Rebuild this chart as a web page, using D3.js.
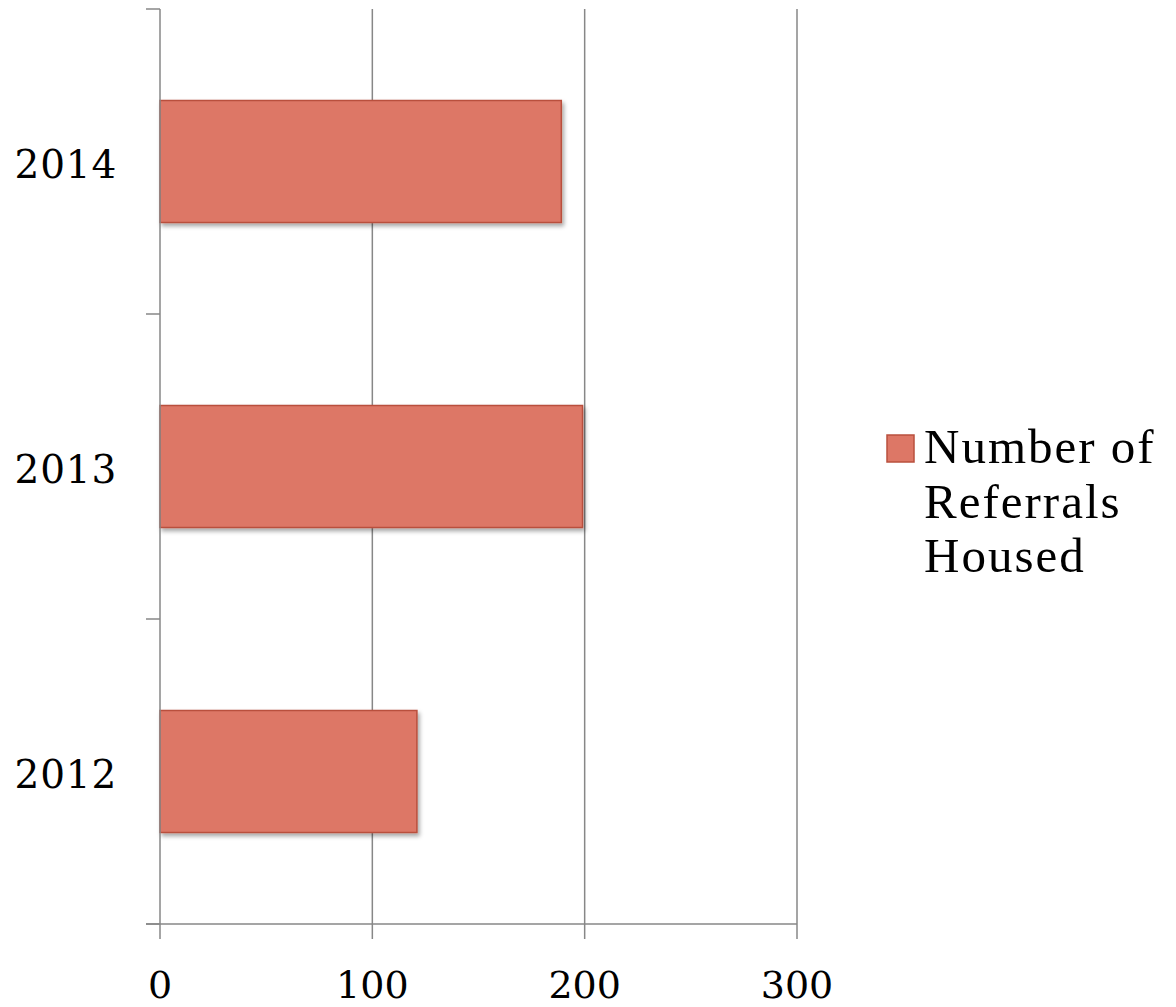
<!DOCTYPE html>
<html>
<head>
<meta charset="utf-8">
<script src="https://cdn.jsdelivr.net/npm/d3@7"></script>
<style>
  html, body { margin: 0; padding: 0; background: #fff; }
  svg { display: block; }
</style>
</head>
<body>
<script>
// Referrals housed per year
const years = ["2012", "2013", "2014"];
const housed = [121, 199, 189];
const xTicks = [0, 100, 200, 300];
const seriesName = ["Number of", "Referrals", "Housed"];

const W = 1176, H = 1007;
const plot = { left: 160, right: 797, top: 9, bottom: 924 };

const svg = d3.select("body").append("svg").attr("width", W).attr("height", H);

const defs = svg.append("defs");
const f = defs.append("filter").attr("id", "shadow")
  .attr("x", "-10%").attr("y", "-10%").attr("width", "130%").attr("height", "130%");
f.append("feDropShadow").attr("dx", 2).attr("dy", 3).attr("stdDeviation", 2.2)
  .attr("flood-color", "#000").attr("flood-opacity", 0.35);

const x = d3.scaleLinear().domain([0, 300]).range([plot.left, plot.right]);
const y = d3.scaleBand().domain(years.slice().reverse())
  .range([plot.top, plot.bottom]).paddingInner(0.6).paddingOuter(0.3);

const gridColor = "#878787";

// vertical gridlines
svg.append("g").selectAll("line").data(xTicks.slice(1)).join("line")
  .attr("x1", d => x(d)).attr("x2", d => x(d))
  .attr("y1", plot.top).attr("y2", plot.bottom)
  .attr("stroke", gridColor).attr("stroke-width", 1.5);

// bars
svg.append("g").selectAll("rect").data(years).join("rect")
  .attr("x", x(0))
  .attr("y", d => y(d))
  .attr("width", (d, i) => x(housed[i]) - x(0))
  .attr("height", y.bandwidth())
  .attr("fill", "#DD7766")
  .attr("stroke", "#B9503E")
  .attr("stroke-width", 1.5)
  .attr("filter", "url(#shadow)");

// category axis with ticks at band boundaries
const yAxis = svg.append("g");
yAxis.append("line")
  .attr("x1", plot.left).attr("x2", plot.left)
  .attr("y1", plot.top).attr("y2", plot.bottom)
  .attr("stroke", gridColor).attr("stroke-width", 1.5);
const step = (plot.bottom - plot.top) / years.length;
yAxis.selectAll("line.tick").data(d3.range(years.length + 1)).join("line")
  .attr("class", "tick")
  .attr("x1", plot.left - 14).attr("x2", plot.left)
  .attr("y1", i => plot.top + i * step).attr("y2", i => plot.top + i * step)
  .attr("stroke", gridColor).attr("stroke-width", 1.5);
yAxis.selectAll("text").data(years).join("text")
  .attr("x", 117)
  .attr("y", d => y(d) + y.bandwidth() / 2 + 16)
  .attr("text-anchor", "end")
  .attr("font-family", "'DejaVu Serif', serif")
  .attr("font-size", 39)
  .attr("letter-spacing", 0.8)
  .attr("fill", "#000")
  .text(d => d);

// value axis
const xAxis = svg.append("g");
xAxis.append("line")
  .attr("x1", plot.left - 14).attr("x2", plot.right)
  .attr("y1", plot.bottom).attr("y2", plot.bottom)
  .attr("stroke", gridColor).attr("stroke-width", 1.5);
xAxis.selectAll("line.tick").data(xTicks).join("line")
  .attr("class", "tick")
  .attr("x1", d => x(d)).attr("x2", d => x(d))
  .attr("y1", plot.bottom).attr("y2", plot.bottom + 15)
  .attr("stroke", gridColor).attr("stroke-width", 1.5);
xAxis.selectAll("text").data(xTicks).join("text")
  .attr("x", d => x(d))
  .attr("y", 998)
  .attr("text-anchor", "middle")
  .attr("font-family", "'DejaVu Serif', serif")
  .attr("font-size", 38)
  .attr("fill", "#000")
  .text(d => d);

// legend
const lg = svg.append("g");
lg.append("rect")
  .attr("x", 887).attr("y", 435).attr("width", 27).attr("height", 27)
  .attr("fill", "#DD7766").attr("stroke", "#B9503E").attr("stroke-width", 1.5);
lg.append("text")
  .attr("font-family", "'Liberation Serif', 'Times New Roman', serif")
  .attr("font-size", 49)
  .attr("letter-spacing", 2)
  .attr("fill", "#000")
  .selectAll("tspan").data(seriesName).join("tspan")
  .attr("x", 924)
  .attr("y", (d, i) => 463 + i * 54.5)
  .text(d => d);
</script>
</body>
</html>
